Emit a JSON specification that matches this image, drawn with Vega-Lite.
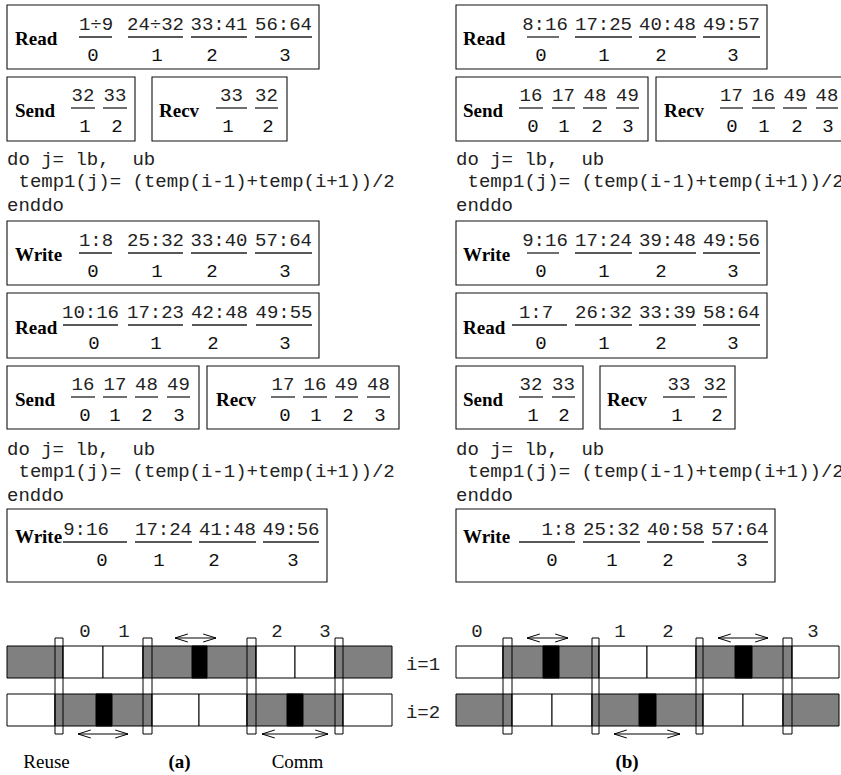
{
  "$schema": "https://vega.github.io/schema/vega-lite/v6.json",
  "autosize": {"type": "none"},
  "width": 841,
  "height": 775,
  "padding": 0,
  "background": "white",
  "config": {"view": {"stroke": null}},
  "datasets": {
    "boxes": [
      {"id": "a-read1", "x1": 7, "x2": 319, "y1": 5, "y2": 69},
      {"id": "a-send1", "x1": 7, "x2": 135, "y1": 77, "y2": 141},
      {"id": "a-recv1", "x1": 152, "x2": 287, "y1": 77, "y2": 141},
      {"id": "a-write1", "x1": 7, "x2": 319, "y1": 221, "y2": 285},
      {"id": "a-read2", "x1": 7, "x2": 319, "y1": 293, "y2": 358},
      {"id": "a-send2", "x1": 7, "x2": 199, "y1": 366, "y2": 429},
      {"id": "a-recv2", "x1": 207, "x2": 399, "y1": 366, "y2": 429},
      {"id": "a-write2", "x1": 7, "x2": 327, "y1": 509, "y2": 582},
      {"id": "b-read1", "x1": 456, "x2": 767, "y1": 5, "y2": 69},
      {"id": "b-send1", "x1": 456, "x2": 648, "y1": 77, "y2": 141},
      {"id": "b-recv1", "x1": 656, "x2": 850, "y1": 77, "y2": 141},
      {"id": "b-write1", "x1": 456, "x2": 767, "y1": 221, "y2": 285},
      {"id": "b-read2", "x1": 456, "x2": 767, "y1": 293, "y2": 358},
      {"id": "b-send2", "x1": 456, "x2": 583, "y1": 366, "y2": 429},
      {"id": "b-recv2", "x1": 600, "x2": 735, "y1": 366, "y2": 429},
      {"id": "b-write2", "x1": 456, "x2": 775, "y1": 509, "y2": 582}
    ],
    "titles": [
      {"label": "Read", "x": 15, "y": 39},
      {"label": "Send", "x": 15, "y": 111},
      {"label": "Recv", "x": 159, "y": 111},
      {"label": "Write", "x": 15, "y": 255},
      {"label": "Read", "x": 15, "y": 328},
      {"label": "Send", "x": 15, "y": 400},
      {"label": "Recv", "x": 216, "y": 400},
      {"label": "Write", "x": 15, "y": 537},
      {"label": "Read", "x": 463, "y": 39},
      {"label": "Send", "x": 463, "y": 111},
      {"label": "Recv", "x": 664, "y": 111},
      {"label": "Write", "x": 463, "y": 255},
      {"label": "Read", "x": 463, "y": 328},
      {"label": "Send", "x": 463, "y": 400},
      {"label": "Recv", "x": 607, "y": 400},
      {"label": "Write", "x": 463, "y": 537}
    ],
    "fractions": [
      {"num": "1÷9", "den": "0", "nx": 96, "denx": 93, "lx1": 79, "lx2": 112, "ly": 37},
      {"num": "24÷32", "den": "1", "nx": 155.5, "denx": 157, "lx1": 128, "lx2": 183, "ly": 37},
      {"num": "33:41", "den": "2", "nx": 219, "denx": 212, "lx1": 191, "lx2": 247, "ly": 37},
      {"num": "56:64", "den": "3", "nx": 283.5, "denx": 285, "lx1": 255, "lx2": 312, "ly": 37},
      {"num": "32", "den": "1", "nx": 83, "denx": 85, "lx1": 71, "lx2": 95, "ly": 108},
      {"num": "33", "den": "2", "nx": 115, "denx": 117, "lx1": 103, "lx2": 127, "ly": 108},
      {"num": "33", "den": "1", "nx": 231.5, "denx": 228, "lx1": 216, "lx2": 247, "ly": 108},
      {"num": "32", "den": "2", "nx": 266.5, "denx": 268, "lx1": 255, "lx2": 278, "ly": 108},
      {"num": "1:8", "den": "0", "nx": 96, "denx": 93, "lx1": 79, "lx2": 112, "ly": 253},
      {"num": "25:32", "den": "1", "nx": 155.5, "denx": 157, "lx1": 128, "lx2": 183, "ly": 253},
      {"num": "33:40", "den": "2", "nx": 219, "denx": 212, "lx1": 191, "lx2": 247, "ly": 253},
      {"num": "57:64", "den": "3", "nx": 283.5, "denx": 285, "lx1": 255, "lx2": 312, "ly": 253},
      {"num": "10:16", "den": "0", "nx": 90.5, "denx": 94, "lx1": 63, "lx2": 118, "ly": 325},
      {"num": "17:23", "den": "1", "nx": 155.5, "denx": 156, "lx1": 128, "lx2": 183, "ly": 325},
      {"num": "42:48", "den": "2", "nx": 219.5, "denx": 213, "lx1": 192, "lx2": 247, "ly": 325},
      {"num": "49:55", "den": "3", "nx": 284, "denx": 285, "lx1": 256, "lx2": 312, "ly": 325},
      {"num": "16", "den": "0", "nx": 83, "denx": 85, "lx1": 71, "lx2": 95, "ly": 397},
      {"num": "17", "den": "1", "nx": 115, "denx": 115, "lx1": 103, "lx2": 127, "ly": 397},
      {"num": "48", "den": "2", "nx": 146.5, "denx": 147, "lx1": 135, "lx2": 158, "ly": 397},
      {"num": "49", "den": "3", "nx": 178.5, "denx": 179, "lx1": 167, "lx2": 190, "ly": 397},
      {"num": "17", "den": "0", "nx": 283, "denx": 285, "lx1": 271, "lx2": 295, "ly": 397},
      {"num": "16", "den": "1", "nx": 315, "denx": 316, "lx1": 303, "lx2": 327, "ly": 397},
      {"num": "49", "den": "2", "nx": 346.5, "denx": 348, "lx1": 335, "lx2": 358, "ly": 397},
      {"num": "48", "den": "3", "nx": 378.5, "denx": 380, "lx1": 367, "lx2": 390, "ly": 397},
      {"num": "9:16", "den": "0", "nx": 86, "denx": 102, "lx1": 63, "lx2": 127, "ly": 542},
      {"num": "17:24", "den": "1", "nx": 163.5, "denx": 159, "lx1": 135, "lx2": 192, "ly": 542},
      {"num": "41:48", "den": "2", "nx": 227.5, "denx": 214, "lx1": 199, "lx2": 256, "ly": 542},
      {"num": "49:56", "den": "3", "nx": 291, "denx": 293, "lx1": 263, "lx2": 319, "ly": 542},
      {"num": "8:16", "den": "0", "nx": 545, "denx": 541, "lx1": 527, "lx2": 559, "ly": 37},
      {"num": "17:25", "den": "1", "nx": 603.5, "denx": 604, "lx1": 575, "lx2": 632, "ly": 37},
      {"num": "40:48", "den": "2", "nx": 667.5, "denx": 661, "lx1": 639, "lx2": 696, "ly": 37},
      {"num": "49:57", "den": "3", "nx": 731.5, "denx": 733, "lx1": 703, "lx2": 760, "ly": 37},
      {"num": "16", "den": "0", "nx": 531, "denx": 533, "lx1": 519, "lx2": 543, "ly": 108},
      {"num": "17", "den": "1", "nx": 563.5, "denx": 564, "lx1": 552, "lx2": 575, "ly": 108},
      {"num": "48", "den": "2", "nx": 595, "denx": 597, "lx1": 583, "lx2": 607, "ly": 108},
      {"num": "49", "den": "3", "nx": 627.5, "denx": 628, "lx1": 616, "lx2": 639, "ly": 108},
      {"num": "17", "den": "0", "nx": 731.5, "denx": 732, "lx1": 720, "lx2": 743, "ly": 108},
      {"num": "16", "den": "1", "nx": 763.5, "denx": 764, "lx1": 752, "lx2": 775, "ly": 108},
      {"num": "49", "den": "2", "nx": 795, "denx": 797, "lx1": 783, "lx2": 807, "ly": 108},
      {"num": "48", "den": "3", "nx": 827, "denx": 828, "lx1": 816, "lx2": 838, "ly": 108},
      {"num": "9:16", "den": "0", "nx": 545, "denx": 541, "lx1": 527, "lx2": 559, "ly": 253},
      {"num": "17:24", "den": "1", "nx": 603.5, "denx": 604, "lx1": 575, "lx2": 632, "ly": 253},
      {"num": "39:48", "den": "2", "nx": 667.5, "denx": 661, "lx1": 639, "lx2": 696, "ly": 253},
      {"num": "49:56", "den": "3", "nx": 731.5, "denx": 733, "lx1": 703, "lx2": 760, "ly": 253},
      {"num": "1:7", "den": "0", "nx": 536, "denx": 541, "lx1": 512, "lx2": 567, "ly": 325},
      {"num": "26:32", "den": "1", "nx": 603.5, "denx": 604, "lx1": 575, "lx2": 632, "ly": 325},
      {"num": "33:39", "den": "2", "nx": 667.5, "denx": 661, "lx1": 639, "lx2": 696, "ly": 325},
      {"num": "58:64", "den": "3", "nx": 731.5, "denx": 733, "lx1": 703, "lx2": 760, "ly": 325},
      {"num": "32", "den": "1", "nx": 531, "denx": 533, "lx1": 519, "lx2": 543, "ly": 397},
      {"num": "33", "den": "2", "nx": 563.5, "denx": 564, "lx1": 552, "lx2": 575, "ly": 397},
      {"num": "33", "den": "1", "nx": 679, "denx": 677, "lx1": 663, "lx2": 695, "ly": 397},
      {"num": "32", "den": "2", "nx": 715, "denx": 717, "lx1": 703, "lx2": 727, "ly": 397},
      {"num": "1:8", "den": "0", "nx": 558.5, "denx": 552, "lx1": 519, "lx2": 575, "ly": 542},
      {"num": "25:32", "den": "1", "nx": 611.5, "denx": 612, "lx1": 583, "lx2": 640, "ly": 542},
      {"num": "40:58", "den": "2", "nx": 675.5, "denx": 668, "lx1": 647, "lx2": 704, "ly": 542},
      {"num": "57:64", "den": "3", "nx": 740, "denx": 742, "lx1": 712, "lx2": 768, "ly": 542}
    ],
    "code": [
      {"line": "do j= lb,\u00a0\u00a0ub", "x": 7, "y": 165},
      {"line": "temp1(j)=\u00a0(temp(i-1)+temp(i+1))/2", "x": 18.5, "y": 187},
      {"line": "enddo", "x": 7, "y": 211},
      {"line": "do j= lb,\u00a0\u00a0ub", "x": 7, "y": 455},
      {"line": "temp1(j)=\u00a0(temp(i-1)+temp(i+1))/2", "x": 18.5, "y": 477},
      {"line": "enddo", "x": 7, "y": 501},
      {"line": "do j= lb,\u00a0\u00a0ub", "x": 456, "y": 165},
      {"line": "temp1(j)=\u00a0(temp(i-1)+temp(i+1))/2", "x": 467.5, "y": 187},
      {"line": "enddo", "x": 456, "y": 211},
      {"line": "do j= lb,\u00a0\u00a0ub", "x": 456, "y": 455},
      {"line": "temp1(j)=\u00a0(temp(i-1)+temp(i+1))/2", "x": 467.5, "y": 477},
      {"line": "enddo", "x": 456, "y": 501}
    ],
    "cells": [
      {"x1": 7, "x2": 63, "y1": 646, "y2": 678, "kind": "gray"},
      {"x1": 63, "x2": 103, "y1": 646, "y2": 678, "kind": "white"},
      {"x1": 103, "x2": 143, "y1": 646, "y2": 678, "kind": "white"},
      {"x1": 143, "x2": 256, "y1": 646, "y2": 678, "kind": "gray"},
      {"x1": 256, "x2": 295, "y1": 646, "y2": 678, "kind": "white"},
      {"x1": 295, "x2": 335, "y1": 646, "y2": 678, "kind": "white"},
      {"x1": 335, "x2": 392, "y1": 646, "y2": 678, "kind": "gray"},
      {"x1": 7, "x2": 55, "y1": 694, "y2": 726, "kind": "white"},
      {"x1": 55, "x2": 152, "y1": 694, "y2": 726, "kind": "gray"},
      {"x1": 152, "x2": 199, "y1": 694, "y2": 726, "kind": "white"},
      {"x1": 199, "x2": 247, "y1": 694, "y2": 726, "kind": "white"},
      {"x1": 247, "x2": 343, "y1": 694, "y2": 726, "kind": "gray"},
      {"x1": 343, "x2": 392, "y1": 694, "y2": 726, "kind": "white"},
      {"x1": 456, "x2": 503, "y1": 646, "y2": 678, "kind": "white"},
      {"x1": 503, "x2": 599, "y1": 646, "y2": 678, "kind": "gray"},
      {"x1": 599, "x2": 647, "y1": 646, "y2": 678, "kind": "white"},
      {"x1": 647, "x2": 696, "y1": 646, "y2": 678, "kind": "white"},
      {"x1": 696, "x2": 792, "y1": 646, "y2": 678, "kind": "gray"},
      {"x1": 792, "x2": 839, "y1": 646, "y2": 678, "kind": "white"},
      {"x1": 456, "x2": 512, "y1": 694, "y2": 726, "kind": "gray"},
      {"x1": 512, "x2": 552, "y1": 694, "y2": 726, "kind": "white"},
      {"x1": 552, "x2": 592, "y1": 694, "y2": 726, "kind": "white"},
      {"x1": 592, "x2": 703, "y1": 694, "y2": 726, "kind": "gray"},
      {"x1": 703, "x2": 743, "y1": 694, "y2": 726, "kind": "white"},
      {"x1": 743, "x2": 783, "y1": 694, "y2": 726, "kind": "white"},
      {"x1": 783, "x2": 839, "y1": 694, "y2": 726, "kind": "gray"},
      {"x1": 192, "x2": 207, "y1": 646, "y2": 678, "kind": "black"},
      {"x1": 96, "x2": 112, "y1": 694, "y2": 726, "kind": "black"},
      {"x1": 287, "x2": 303, "y1": 694, "y2": 726, "kind": "black"},
      {"x1": 543, "x2": 559, "y1": 646, "y2": 678, "kind": "black"},
      {"x1": 735, "x2": 752, "y1": 646, "y2": 678, "kind": "black"},
      {"x1": 639, "x2": 656, "y1": 694, "y2": 726, "kind": "black"}
    ],
    "slots": [
      {"x1": 55, "x2": 63}, {"x1": 143, "x2": 152}, {"x1": 247, "x2": 256}, {"x1": 335, "x2": 343},
      {"x1": 503, "x2": 512}, {"x1": 592, "x2": 599}, {"x1": 696, "x2": 703}, {"x1": 783, "x2": 792}
    ],
    "barlabels": [
      {"t": "0", "x": 85, "y": 637}, {"t": "1", "x": 124, "y": 637},
      {"t": "2", "x": 277, "y": 637}, {"t": "3", "x": 325, "y": 637},
      {"t": "0", "x": 477, "y": 637}, {"t": "1", "x": 620, "y": 637},
      {"t": "2", "x": 668, "y": 637}, {"t": "3", "x": 813, "y": 637},
      {"t": "i=1", "x": 423, "y": 670}, {"t": "i=2", "x": 423, "y": 718}
    ],
    "arrows": [
      {"x1": 175, "x2": 216, "y": 638}, {"x1": 78, "x2": 128, "y": 734}, {"x1": 262, "x2": 328, "y": 734},
      {"x1": 527, "x2": 568, "y": 638}, {"x1": 718, "x2": 768, "y": 638}, {"x1": 614, "x2": 680, "y": 734}
    ],
    "captions": [
      {"t": "Reuse", "x": 46.5, "y": 768},
      {"t": "Comm", "x": 297.5, "y": 768}
    ],
    "panels": [
      {"t": "(a)", "x": 179.5, "y": 768},
      {"t": "(b)", "x": 627, "y": 768}
    ]
  },
  "layer": [
    {
      "data": {"name": "boxes"},
      "mark": {"type": "rect", "fill": "white", "stroke": "#111", "strokeWidth": 1.1},
      "encoding": {
        "x": {"field": "x1", "type": "quantitative", "scale": {"domain": [0, 841], "nice": false, "zero": false}, "axis": null},
        "x2": {"field": "x2"},
        "y": {"field": "y1", "type": "quantitative", "scale": {"domain": [0, 775], "nice": false, "zero": false, "reverse": true}, "axis": null},
        "y2": {"field": "y2"}
      }
    },
    {
      "data": {"name": "titles"},
      "mark": {"type": "text", "font": "Liberation Serif", "fontWeight": "bold", "fontSize": 19, "align": "left", "baseline": "middle", "color": "#000"},
      "encoding": {
        "x": {"field": "x", "type": "quantitative"},
        "y": {"field": "y", "type": "quantitative"},
        "text": {"field": "label"}
      }
    },
    {
      "data": {"name": "fractions"},
      "mark": {"type": "rule", "stroke": "#222", "strokeWidth": 1.3},
      "encoding": {
        "x": {"field": "lx1", "type": "quantitative"},
        "x2": {"field": "lx2"},
        "y": {"field": "ly", "type": "quantitative"}
      }
    },
    {
      "data": {"name": "fractions"},
      "mark": {"type": "text", "font": "Liberation Mono", "fontSize": 19, "align": "center", "baseline": "alphabetic", "dy": -7, "color": "#222"},
      "encoding": {
        "x": {"field": "nx", "type": "quantitative"},
        "y": {"field": "ly", "type": "quantitative"},
        "text": {"field": "num"}
      }
    },
    {
      "data": {"name": "fractions"},
      "mark": {"type": "text", "font": "Liberation Mono", "fontSize": 19, "align": "center", "baseline": "alphabetic", "dy": 24, "color": "#111"},
      "encoding": {
        "x": {"field": "denx", "type": "quantitative"},
        "y": {"field": "ly", "type": "quantitative"},
        "text": {"field": "den"}
      }
    },
    {
      "data": {"name": "code"},
      "mark": {"type": "text", "font": "Liberation Mono", "fontSize": 19, "align": "left", "baseline": "alphabetic", "color": "#222"},
      "encoding": {
        "x": {"field": "x", "type": "quantitative"},
        "y": {"field": "y", "type": "quantitative"},
        "text": {"field": "line"}
      }
    },
    {
      "data": {"name": "cells"},
      "mark": {"type": "rect", "stroke": "#000", "strokeWidth": 1},
      "encoding": {
        "x": {"field": "x1", "type": "quantitative"},
        "x2": {"field": "x2"},
        "y": {"field": "y1", "type": "quantitative"},
        "y2": {"field": "y2"},
        "fill": {"field": "kind", "type": "nominal", "scale": {"domain": ["white", "gray", "black"], "range": ["#ffffff", "#808080", "#000000"]}, "legend": null}
      }
    },
    {
      "data": {"name": "slots"},
      "mark": {"type": "rect", "fill": null, "fillOpacity": 0, "stroke": "#000", "strokeWidth": 1, "y": {"expr": "scale('y', 638)"}, "y2": {"expr": "scale('y', 734)"}},
      "encoding": {
        "x": {"field": "x1", "type": "quantitative"},
        "x2": {"field": "x2"}
      }
    },
    {
      "data": {"name": "barlabels"},
      "mark": {"type": "text", "font": "Liberation Mono", "fontSize": 19, "align": "center", "baseline": "alphabetic", "color": "#222"},
      "encoding": {
        "x": {"field": "x", "type": "quantitative"},
        "y": {"field": "y", "type": "quantitative"},
        "text": {"field": "t"}
      }
    },
    {
      "data": {"name": "arrows"},
      "mark": {"type": "rule", "stroke": "#000", "strokeWidth": 1},
      "encoding": {
        "x": {"field": "x1", "type": "quantitative"},
        "x2": {"field": "x2"},
        "y": {"field": "y", "type": "quantitative"}
      }
    },
    {
      "data": {"name": "arrows"},
      "mark": {"type": "point", "shape": "M3.2,-1L0,0L3.2,1", "size": 64, "filled": false, "stroke": "#000", "strokeWidth": 1, "opacity": 1},
      "encoding": {
        "x": {"field": "x1", "type": "quantitative"},
        "y": {"field": "y", "type": "quantitative"}
      }
    },
    {
      "data": {"name": "arrows"},
      "mark": {"type": "point", "shape": "M-3.2,-1L0,0L-3.2,1", "size": 64, "filled": false, "stroke": "#000", "strokeWidth": 1, "opacity": 1},
      "encoding": {
        "x": {"field": "x2", "type": "quantitative"},
        "y": {"field": "y", "type": "quantitative"}
      }
    },
    {
      "data": {"name": "captions"},
      "mark": {"type": "text", "font": "Liberation Serif", "fontSize": 19, "align": "center", "baseline": "alphabetic", "color": "#000"},
      "encoding": {
        "x": {"field": "x", "type": "quantitative"},
        "y": {"field": "y", "type": "quantitative"},
        "text": {"field": "t"}
      }
    },
    {
      "data": {"name": "panels"},
      "mark": {"type": "text", "font": "Liberation Serif", "fontWeight": "bold", "fontSize": 19, "align": "center", "baseline": "alphabetic", "color": "#000"},
      "encoding": {
        "x": {"field": "x", "type": "quantitative"},
        "y": {"field": "y", "type": "quantitative"},
        "text": {"field": "t"}
      }
    }
  ]
}
